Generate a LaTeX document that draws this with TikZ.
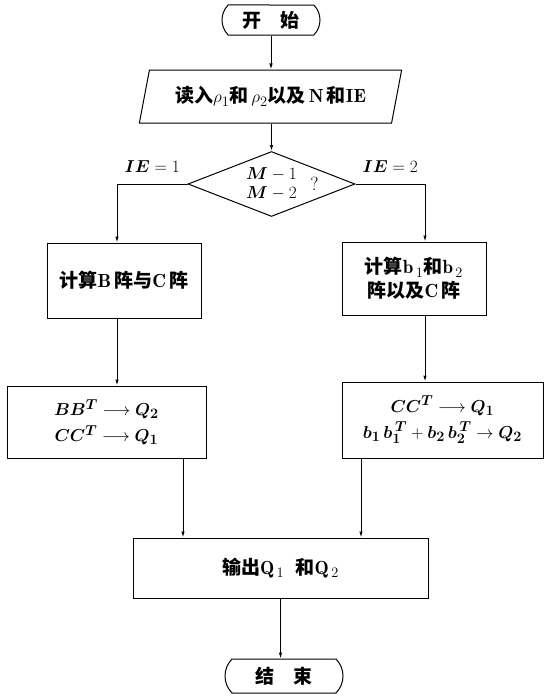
\documentclass[tikz,border=0pt]{standalone}
\usepackage{fontspec}
\usepackage{amsmath}
\usepackage{bm}
\newfontfamily\cjk{Noto Sans CJK SC}
\newcommand{\zh}[1]{{\cjk\bfseries #1}}
\usetikzlibrary{shapes.geometric,shapes.misc,arrows.meta}

\begin{document}
\begin{tikzpicture}[x=1pt, y=-1pt,
    font=\fontsize{19}{24}\selectfont,
    line width=1pt,
    >={Latex[length=6pt,width=3.5pt]},
    box/.style={draw, rectangle, align=center, inner sep=0pt},
    term/.style={draw, rounded rectangle, rounded rectangle arc length=90, inner sep=0pt}]
    % Fix the size of the page
    \useasboundingbox (0,0) rectangle (546,696);

    % Start and the input of the data
    \node[term, minimum width=98, minimum height=30] (start) at (271,20) {\zh{开\quad 始}};
    \node[draw, trapezium, trapezium left angle=68, trapezium right angle=112,
          trapezium stretches=true, minimum width=263, minimum height=53, inner sep=0pt]
          (input) at (270.5,96.5)
          {\zh{读入}$\rho_1$\zh{和}\,$\rho_2$\zh{以及}\,$\mathbf{N}$\,\zh{和}$\mathbf{IE}$};

    % The test, with its question mark
    \node[draw, diamond, aspect=2.57, minimum width=167, minimum height=65, inner sep=0pt]
          (test) at (271.5,184)
          {$\begin{array}{@{}c@{}}\bm{M}-1\\[-5pt]\bm{M}-2\end{array}$};
    \node (ask) at ([xshift=43pt]test.center) {?};

    % The two ways: IE = 1 and IE = 2
    \node[box, minimum width=154, minimum height=75] (calcB) at (124,280.5)
          {\zh{计算}$\mathbf{B}$\,\zh{阵与}$\mathbf{C}$\,\zh{阵}};
    \node[box, minimum width=144, minimum height=73] (calcb) at (414,278.5)
          {\zh{计算}$\mathbf{b}_{\,1}$\zh{和}$\mathbf{b}_{\,2}$\\\zh{阵以及}$\mathbf{C}$\,\zh{阵}};
    \node[box, minimum width=199, minimum height=72] (left) at (106.5,422)
          {$\bm{BB^T}\longrightarrow\bm{Q_2}$\\[2pt]$\bm{CC^T}\longrightarrow\bm{Q_1}$};
    \node[box, minimum width=201, minimum height=76] (right) at (442.5,420)
          {$\bm{CC^T}\longrightarrow\bm{Q_1}$\\[2pt]$\bm{b_1\,b_1^{\,T}}+\bm{b_2\,b_2^{\,T}}\to\bm{Q_2}$};

    % Output and the end
    \node[box, minimum width=295, minimum height=60] (out) at (280.5,568)
          {\zh{输出}$\mathbf{Q}_{\,1}$\ \ \zh{和}$\mathbf{Q}_{\,2}$};
    \node[term, minimum width=118, minimum height=34] (stop) at (284,676) {\zh{结\quad 束}};

    % Draw the arrows down the chart
    \draw[->] (start.south) -- (start.south |- input.north);
    \draw[->] (input.south -| test.north) -- (test.north);
    \draw[->] (test.west) -| ([xshift=-7pt]calcB.north) node[pos=0.25, above=8pt] {$\bm{IE}=1$};
    \draw[->] (test.east) -| ([xshift=11pt]calcb.north) node[pos=0.25, above=8pt] {$\bm{IE}=2$};
    \draw[->] ([xshift=-7pt]calcB.south) -- ([xshift=-7pt]calcB.south |- left.north);
    \draw[->] ([xshift=11pt]calcb.south) -- ([xshift=11pt]calcb.south |- right.north);
    \draw[->] ([xshift=76.5pt]left.south) -- ([xshift=76.5pt]left.south |- out.north);
    \draw[->] ([xshift=-81.5pt]right.south) -- ([xshift=-81.5pt]right.south |- out.north);
    \draw[->] (out.south) -- (out.south |- stop.north);
\end{tikzpicture}
\end{document}
